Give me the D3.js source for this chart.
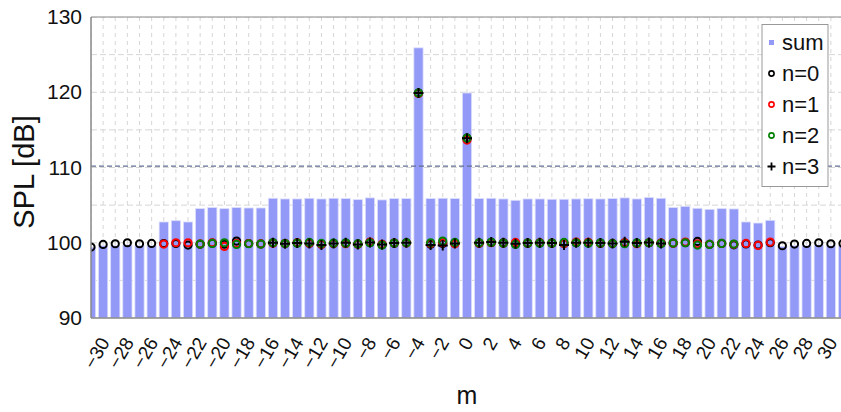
<!DOCTYPE html>
<html><head><meta charset="utf-8">
<script src="https://cdn.jsdelivr.net/npm/d3@7"></script>
<style>
body{margin:0;background:#fff;}
svg{display:block;font-family:"Liberation Sans",Arial,sans-serif;}
</style></head>
<body><svg id="c" width="841" height="412"></svg>
<script>
const modes = d3.range(-31, 32);
const sumLevel = [99.4,99.6,99.6,99.7,99.6,99.6,
 102.76,102.93,102.76,
 104.53,104.67,104.53,104.67,104.62,104.62,
 105.91,105.82,105.82,105.91,105.82,105.91,105.87,105.73,105.96,105.69,105.87,105.87,
 125.9,105.87,105.91,105.87,119.9,105.87,105.91,105.82,105.64,105.82,105.82,105.78,105.78,105.82,
 105.85,105.82,105.87,105.96,105.82,106.0,105.91,
 104.67,104.84,104.58,104.44,104.53,104.49,
 102.76,102.62,102.98,
 99.5,99.6,99.6,99.7,99.6,99.6];
const n0 = [99.42,99.78,99.87,100.0,99.87,99.91,
 99.9,99.9,99.69,
 99.8,99.95,99.8,100.22,99.9,99.85,
 100.0,99.9,100.0,99.95,99.8,99.9,99.95,99.85,100.05,99.75,99.95,100.0,
 119.9,99.8,99.9,99.95,113.9,99.95,100.05,100.0,99.9,99.95,100.0,99.95,99.9,100.0,
 100.0,99.95,99.9,100.0,99.95,100.0,99.95,
 99.95,100.0,100.18,99.8,99.9,99.73,
 99.85,99.7,100.0,
 99.6,99.82,99.91,100.0,99.87,99.9];
const n1 = [null,null,null,null,null,null,
 99.82,100.0,100.0,
 99.85,100.0,99.51,99.9,99.9,99.85,
 99.95,99.9,100.0,99.95,99.8,99.9,99.87,99.8,100.1,99.8,99.95,99.97,
 119.85,99.9,100.0,99.87,113.65,99.95,100.0,99.95,100.04,99.95,100.0,99.95,99.9,100.09,
 100.05,99.91,99.9,100.0,99.87,100.0,99.95,
 99.95,100.09,99.87,99.8,99.91,99.8,
 99.91,99.64,100.09,
 null,null,null,null,null,null];
const n2 = [null,null,null,null,null,null,
 null,null,null,
 99.82,99.91,100.0,99.78,99.87,99.82,
 100.0,99.9,99.95,100.04,99.91,99.95,99.95,99.85,100.0,99.69,99.95,100.0,
 119.9,100.0,100.22,100.04,113.9,100.0,100.05,99.95,99.78,99.95,99.95,99.95,100.04,100.0,
 99.95,99.95,99.9,99.87,99.95,100.0,99.9,
 99.96,100.0,99.69,99.78,99.91,99.82,
 null,null,null,
 null,null,null,null,null,null];
const n3 = [null,null,null,null,null,null,
 null,null,null,
 null,null,null,null,null,null,
 100.0,99.87,99.96,99.91,99.69,99.91,100.0,99.78,100.04,99.78,99.96,100.0,
 119.9,99.69,99.64,99.91,113.9,100.0,100.09,100.0,99.87,99.96,100.0,99.96,99.69,100.0,
 100.0,99.96,99.91,100.13,99.96,100.04,99.91,
 null,null,null,null,null,null,
 null,null,null,
 null,null,null,null,null,null];
const xTicks = d3.range(-30, 31, 2);
const yTicks = [90, 100, 110, 120, 130];
const yGrid = d3.range(90, 131, 5);
const refLevel = 110.17;
const legendLabels = ["sum", "n=0", "n=1", "n=2", "n=3"];

const svg = d3.select("#c");
const L = 91, R = 843, T = 17, B = 318;
const x = d3.scaleLinear().domain([-31, 31]).range([L, R]);
const y = d3.scaleLinear().domain([90, 130]).range([B, T]);
const step = x(1) - x(0);
const bw = step * 0.76;

svg.append("defs").append("clipPath").attr("id", "clip")
  .append("rect").attr("x", L).attr("y", T).attr("width", R - L).attr("height", B - T);

const plot = svg.append("g").attr("clip-path", "url(#clip)");

// grid
plot.append("g").selectAll("line").data(modes).join("line")
  .attr("x1", d => x(d)).attr("x2", d => x(d)).attr("y1", T).attr("y2", B)
  .attr("stroke", "#d6d6d6").attr("stroke-width", 1).attr("stroke-dasharray", "4,4");
plot.append("g").selectAll("line").data(yGrid).join("line")
  .attr("x1", L).attr("x2", R).attr("y1", d => y(d)).attr("y2", d => y(d))
  .attr("stroke", "#d6d6d6").attr("stroke-width", 1).attr("stroke-dasharray", "6,3");

// bars
plot.append("g").selectAll("rect").data(modes.map((m, i) => ({m, v: sumLevel[i]}))).join("rect")
  .attr("x", d => x(d.m) - bw / 2).attr("width", bw)
  .attr("y", d => y(d.v)).attr("height", d => y(90) - y(d.v))
  .attr("fill", "#9299f6").attr("stroke", "#dcdefc").attr("stroke-width", 0.8);

// reference dashed line
plot.append("line").attr("x1", L).attr("x2", R).attr("y1", y(refLevel)).attr("y2", y(refLevel))
  .attr("stroke", "#5f6f8f").attr("stroke-width", 1.2).attr("stroke-dasharray", "5,3");

function circles(arr, color) {
  plot.append("g").selectAll("circle")
    .data(modes.map((m, i) => ({m, v: arr[i]})).filter(d => d.v != null)).join("circle")
    .attr("cx", d => x(d.m)).attr("cy", d => y(d.v)).attr("r", 3.6)
    .attr("fill", "none").attr("stroke", color).attr("stroke-width", 2);
}
circles(n0, "#000");
circles(n1, "#ff0000");
circles(n2, "#008000");
plot.append("g").selectAll("path")
  .data(modes.map((m, i) => ({m, v: n3[i]})).filter(d => d.v != null)).join("path")
  .attr("transform", d => `translate(${x(d.m)},${y(d.v)})`)
  .attr("d", "M-5,0H5M0,-5V5")
  .attr("stroke", "#000").attr("stroke-width", 2).attr("fill", "none");

// axes
const ya = svg.append("g").attr("transform", `translate(${L},0)`)
  .call(d3.axisLeft(y).tickValues(yTicks).tickSize(0).tickPadding(9));
ya.select(".domain").remove();
ya.selectAll("text").attr("font-size", 21).attr("fill", "#111").attr("font-family", "Liberation Sans, Arial, sans-serif");

const xa = svg.append("g").attr("transform", `translate(0,${B})`)
  .call(d3.axisBottom(x).tickValues(xTicks).tickSize(0));
xa.select(".domain").remove();
xa.selectAll("text")
  .attr("font-size", 19).attr("fill", "#111").attr("font-family", "Liberation Sans, Arial, sans-serif")
  .attr("text-anchor", "end").attr("dy", null).attr("y", null)
  .attr("dominant-baseline", "central")
  .attr("transform", "translate(1,21) rotate(-60)");

// frame lines
svg.append("line").attr("x1", L).attr("x2", L).attr("y1", T).attr("y2", B).attr("stroke", "#888").attr("stroke-width", 1.5);
svg.append("line").attr("x1", L).attr("x2", R).attr("y1", B).attr("y2", B).attr("stroke", "#888").attr("stroke-width", 1.5);
svg.append("line").attr("x1", L).attr("x2", R).attr("y1", T).attr("y2", T).attr("stroke", "#888").attr("stroke-width", 1.2);

// axis titles
svg.append("text").attr("transform", "translate(34,172) rotate(-90)").attr("text-anchor", "middle")
  .attr("font-size", 29).attr("fill", "#111").text("SPL [dB]");
svg.append("text").attr("x", 467).attr("y", 404).attr("text-anchor", "middle")
  .attr("font-size", 25).attr("fill", "#111").text("m");

// legend
const lg = svg.append("g");
lg.append("rect").attr("x", 762).attr("y", 24.5).attr("width", 66).attr("height", 162)
  .attr("fill", "#fff").attr("stroke", "#999").attr("stroke-width", 1);
const ly = i => 42.5 + i * 31;
lg.selectAll("text").data(legendLabels).join("text")
  .attr("x", 782).attr("y", (d, i) => ly(i)).attr("dominant-baseline", "central")
  .attr("font-size", 22).attr("fill", "#111").text(d => d);
lg.append("rect").attr("x", 769).attr("y", ly(0) - 2.5).attr("width", 5).attr("height", 5).attr("fill", "#9299f6");
const lcol = ["#000", "#ff0000", "#008000"];
lcol.forEach((c, i) => lg.append("circle").attr("cx", 771.5).attr("cy", ly(i + 1)).attr("r", 2.6)
  .attr("fill", "none").attr("stroke", c).attr("stroke-width", 1.6));
lg.append("path").attr("transform", `translate(771.5,${ly(4)})`).attr("d", "M-4,0H4M0,-4V4")
  .attr("stroke", "#000").attr("stroke-width", 1.8);
</script></body></html>
